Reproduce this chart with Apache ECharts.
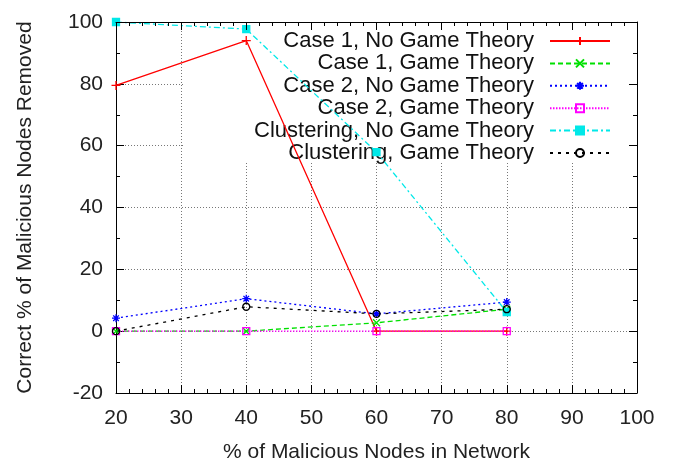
<!DOCTYPE html>
<html>
<head>
<meta charset="utf-8">
<script src="https://cdn.jsdelivr.net/npm/echarts@6/dist/echarts.min.js"></script>
<style>
  html, body { margin: 0; padding: 0; background: #fff; }
  #chart { width: 677px; height: 462px; }
</style>
</head>
<body>
<div id="chart"></div>
<script>
// Percentage of malicious nodes in the network (x values)
const xValues = [20, 40, 60, 80];

// Correct % of malicious nodes removed, per strategy
const case1NoGT = [79.5, 94, 0, 0];
const case1GT = [0, 0, 2.7, 7.1];
const case2NoGT = [4.2, 10.5, 5.6, 9.4];
const case2GT = [0, 0, 0, 0];
const clusterNoGT = [100, 97.7, 57.9, 6.2];
const clusterGT = [0, 7.9, 5.6, 7.1];

const seriesNames = [
  'Case 1, No Game Theory',
  'Case 1, Game Theory',
  'Case 2, No Game Theory',
  'Case 2, Game Theory',
  'Clustering, No Game Theory',
  'Clustering, Game Theory'
];

const FONT = '"Liberation Sans", Arial, Helvetica, sans-serif';

// stroke-only point glyphs
const PLUS = 'path://M0,5L10,5M5,0L5,10';
const CROSS = 'path://M0,0L10,10M10,0L0,10';
const STAR = 'path://M0,5L10,5M5,0L5,10M1.5,1.5L8.5,8.5M8.5,1.5L1.5,8.5';

function pairs(ys) {
  return xValues.map((x, i) => [x, ys[i]]);
}

function makeSeries(name, ys, color, dash, symbol, size, filled) {
  return {
    name: name,
    type: 'line',
    z: 3,
    data: pairs(ys),
    symbol: symbol,
    symbolSize: size,
    showAllSymbol: true,
    lineStyle: { color: color, width: 1.3, type: dash },
    itemStyle: {
      color: filled ? color : 'none',
      borderColor: color,
      borderWidth: 1.3
    },
    emphasis: { disabled: true }
  };
}

const chart = echarts.init(document.getElementById('chart'), null, { renderer: 'canvas' });

const tickCommon = {
  axisLine: { show: true, onZero: false, lineStyle: { color: '#000', width: 1 } },
  axisTick: { show: true, inside: true, length: 8, lineStyle: { color: '#000' } },
};

chart.setOption({
  animation: false,
  backgroundColor: '#fff',
  grid: { left: 116, right: 40, top: 22, bottom: 69, containLabel: false, outerBoundsMode: 'none' },
  // opaque key area that hides the grid lines behind the legend
  graphic: [{
    type: 'rect',
    z: 1,
    shape: { x: 185, y: 23, width: 451, height: 140 },
    style: { fill: '#fff' },
    silent: true
  }],
  legend: {
    show: true,
    z: 2,
    orient: 'vertical',
    align: 'right',
    right: 66,
    top: 30,
    padding: 0,
    itemGap: 0.4,
    itemWidth: 60,
    itemHeight: 10,
    selectedMode: false,
    data: seriesNames,
    textStyle: {
      fontFamily: FONT,
      fontSize: 22,
      color: '#111',
      lineHeight: 22,
      padding: [0, 11, 0, 0]
    }
  },
  xAxis: [{
    type: 'value',
    position: 'bottom',
    min: 20, max: 100, interval: 10,
    ...tickCommon,
    minorTick: { show: true, splitNumber: 5, length: 4, lineStyle: { color: '#000' } },
    axisLabel: { fontFamily: FONT, fontSize: 21, color: '#222', margin: 15 },
    splitLine: { show: true, lineStyle: { color: '#777', width: 1, type: [1, 2] } },
    name: '% of Malicious Nodes in Network',
    nameLocation: 'middle',
    nameGap: 49,
    nameTextStyle: { fontFamily: FONT, fontSize: 21, color: '#222' }
  }, {
    type: 'value',
    position: 'top',
    z: 4,
    min: 20, max: 100, interval: 10,
    ...tickCommon,
    minorTick: { show: true, splitNumber: 5, length: 4, lineStyle: { color: '#000' } },
    axisLabel: { show: false },
    splitLine: { show: false }
  }],
  yAxis: [{
    type: 'value',
    position: 'left',
    min: -20, max: 100, interval: 20,
    ...tickCommon,
    minorTick: { show: true, splitNumber: 2, length: 4, lineStyle: { color: '#000' } },
    axisLabel: { fontFamily: FONT, fontSize: 21, color: '#222', margin: 13 },
    splitLine: { show: true, lineStyle: { color: '#777', width: 1, type: [1, 2] } },
    name: 'Correct % of Malicious Nodes Removed',
    nameLocation: 'middle',
    nameGap: 80,
    nameTextStyle: { fontFamily: FONT, fontSize: 21, color: '#222' }
  }, {
    type: 'value',
    position: 'right',
    z: 4,
    min: -20, max: 100, interval: 20,
    ...tickCommon,
    minorTick: { show: true, splitNumber: 2, length: 4, lineStyle: { color: '#000' } },
    axisLabel: { show: false },
    splitLine: { show: false }
  }],
  series: [
    makeSeries(seriesNames[0], case1NoGT, '#ff0000', 'solid', PLUS, 9, false),
    makeSeries(seriesNames[1], case1GT, '#00e000', [5, 3], CROSS, 7, false),
    makeSeries(seriesNames[2], case2NoGT, '#0000ff', [2, 3], STAR, 8, false),
    makeSeries(seriesNames[3], case2GT, '#ff00ff', [1.5, 1.5], 'rect', 7, false),
    makeSeries(seriesNames[4], clusterNoGT, '#00e8e8', [6, 3, 2, 3], 'rect', 7, true),
    makeSeries(seriesNames[5], clusterGT, '#000000', [3, 5], 'circle', 7, false)
  ]
});
</script>
</body>
</html>
